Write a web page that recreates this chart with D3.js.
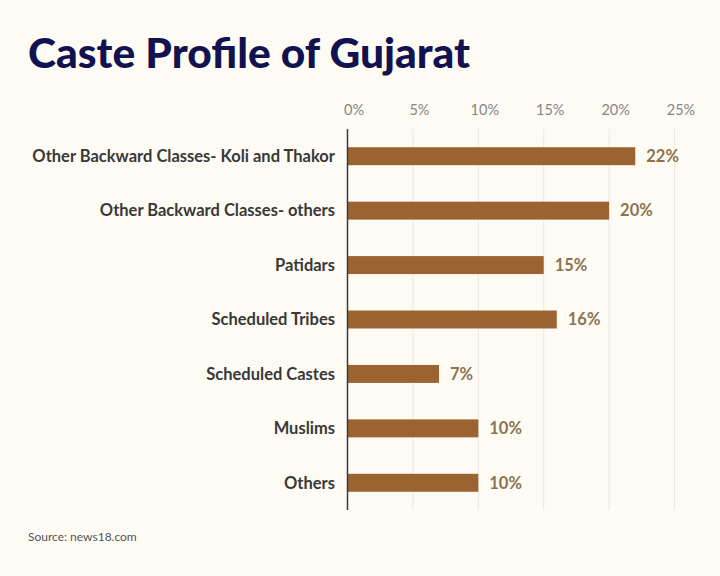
<!DOCTYPE html>
<html>
<head>
<meta charset="utf-8">
<script src="https://cdn.jsdelivr.net/npm/d3@7"></script>
<style>
  html, body { margin: 0; padding: 0; background: #fefbf5; }
  svg { display: block; }
</style>
</head>
<body>
<svg id="chart" width="720" height="576"></svg>
<script>
const categories = [
  "Other Backward Classes- Koli and Thakor",
  "Other Backward Classes- others",
  "Patidars",
  "Scheduled Tribes",
  "Scheduled Castes",
  "Muslims",
  "Others"
];
const values = [22, 20, 15, 16, 7, 10, 10];
const tickValues = [0, 5, 10, 15, 20, 25];
const tickLabels = ["0%", "5%", "10%", "15%", "20%", "25%"];
const titleText = "Caste Profile of Gujarat";
const sourceText = "Source: news18.com";

const svg = d3.select("#chart");
svg.append("rect").attr("width", 720).attr("height", 576).attr("fill", "#fefbf5");

const x = d3.scaleLinear().domain([0, 25]).range([347.5, 674.5]);
const y = d3.scaleBand().domain(categories).range([129, 510]).paddingInner(0.67).paddingOuter(0.335);

// title
svg.append("text")
  .attr("x", 28).attr("y", 68)
  .attr("font-family", "Lato")
  .attr("font-weight", 900)
  .attr("font-size", 42.5)
  .attr("fill", "#11124f")
  .text(titleText);

// gridlines
svg.append("g").selectAll("line")
  .data(tickValues.slice(1))
  .join("line")
  .attr("x1", d => x(d)).attr("x2", d => x(d))
  .attr("y1", 129).attr("y2", 510)
  .attr("stroke", "#ebe7e1").attr("stroke-width", 1);

// top axis labels
const axis = d3.axisTop(x).tickValues(tickValues).tickFormat((d, i) => tickLabels[i]).tickSize(0);
const ag = svg.append("g").attr("transform", "translate(6,118)").call(axis);
ag.select(".domain").remove();
ag.selectAll("text")
  .attr("font-family", "Lato")
  .attr("font-size", 14.5)
  .attr("fill", "#858585");

// bars
svg.append("g").selectAll("rect")
  .data(categories)
  .join("rect")
  .attr("x", x(0))
  .attr("y", d => y(d))
  .attr("width", (d, i) => x(values[i]) - x(0))
  .attr("height", y.bandwidth())
  .attr("fill", "#9b6330");

// category labels
svg.append("g").selectAll("text")
  .data(categories)
  .join("text")
  .attr("x", 335)
  .attr("y", d => y(d) + y.bandwidth() / 2)
  .attr("dy", "0.35em")
  .attr("text-anchor", "end")
  .attr("font-family", "Lato")
  .attr("font-weight", 700)
  .attr("font-size", 16.5)
  .attr("fill", "#383838")
  .text(d => d);

// value labels
svg.append("g").selectAll("text")
  .data(categories)
  .join("text")
  .attr("x", (d, i) => x(values[i]) + 11)
  .attr("y", d => y(d) + y.bandwidth() / 2)
  .attr("dy", "0.35em")
  .attr("font-family", "Lato")
  .attr("font-weight", 700)
  .attr("font-size", 16.5)
  .attr("fill", "#8c7350")
  .text((d, i) => values[i] + "%");

// axis line
svg.append("line")
  .attr("x1", x(0)).attr("x2", x(0))
  .attr("y1", 129).attr("y2", 510)
  .attr("stroke", "#3a3a3a").attr("stroke-width", 1.5);

// source
svg.append("text")
  .attr("x", 28).attr("y", 541)
  .attr("font-family", "Lato")
  .attr("font-size", 12)
  .attr("fill", "#555555")
  .text(sourceText);
</script>
</body>
</html>
